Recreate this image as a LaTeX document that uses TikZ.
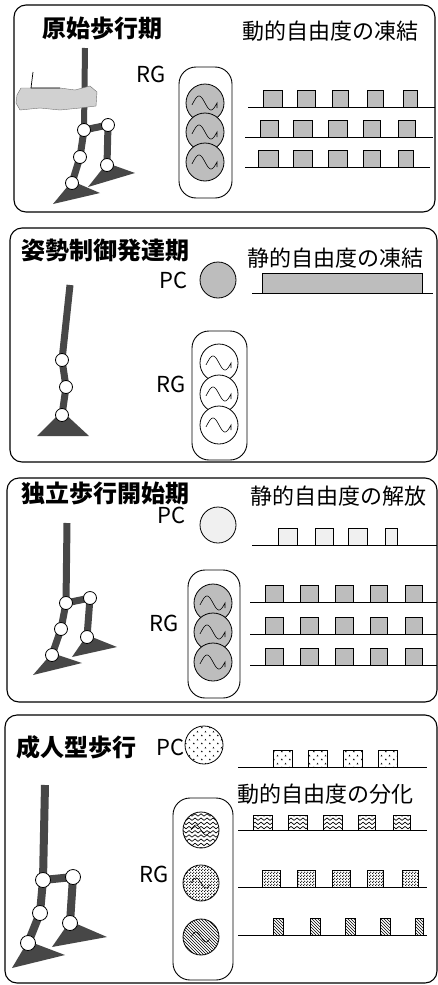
\documentclass[tikz,border=0pt]{standalone}
\usepackage{fontspec}
\newfontfamily\jp{Noto Sans CJK JP}
\usetikzlibrary{patterns}

% wavy horizontal lines
\pgfdeclarepatternformonly{zigzagfill}{\pgfqpoint{-1pt}{-1pt}}{\pgfqpoint{7pt}{6pt}}{\pgfqpoint{6pt}{4.2pt}}{%
  \pgfsetlinewidth{0.7pt}%
  \pgfpathmoveto{\pgfqpoint{0pt}{0.8pt}}%
  \pgfpathlineto{\pgfqpoint{3pt}{3.2pt}}%
  \pgfpathlineto{\pgfqpoint{6pt}{0.8pt}}%
  \pgfusepath{stroke}}
% dense stipple
\pgfdeclarepatternformonly{finedots}{\pgfqpoint{0pt}{0pt}}{\pgfqpoint{3pt}{3pt}}{\pgfqpoint{3pt}{3pt}}{%
  \pgfpathcircle{\pgfqpoint{0.75pt}{0.75pt}}{0.75pt}%
  \pgfpathcircle{\pgfqpoint{2.25pt}{2.25pt}}{0.75pt}%
  \pgfusepath{fill}}
% sparse small triangles
\pgfdeclarepatternformonly{tridots}{\pgfqpoint{0pt}{0pt}}{\pgfqpoint{8pt}{8pt}}{\pgfqpoint{8pt}{8pt}}{%
  \pgfpathmoveto{\pgfqpoint{1pt}{1pt}}\pgfpathlineto{\pgfqpoint{3pt}{1pt}}\pgfpathlineto{\pgfqpoint{2pt}{2.8pt}}\pgfpathclose
  \pgfpathmoveto{\pgfqpoint{5pt}{5pt}}\pgfpathlineto{\pgfqpoint{7pt}{5pt}}\pgfpathlineto{\pgfqpoint{6pt}{6.8pt}}\pgfpathclose
  \pgfusepath{fill}}

\tikzset{
  panel/.style={draw, line width=1.1pt, rounded corners=12pt},
  rgbox/.style={draw, line width=0.9pt, rounded corners=17pt},
  bar/.style={line width=7pt, draw=black!72},
  joint/.style={draw, fill=white, line width=0.8pt},
  foot/.style={fill=black!72},
  base/.style={line width=0.8pt},
  pulse/.style={draw, line width=0.6pt},
  stipple/.style={fill=black!26},
  pale/.style={fill=black!6},
  cell/.style={draw, line width=0.8pt},
  wig/.style={line width=0.6pt},
  title/.style={font=\jp\bfseries\fontsize{24}{24}\selectfont, anchor=west, inner sep=0pt},
  lab/.style={font=\jp\fontsize{22}{22}\selectfont, anchor=west, inner sep=0pt},
  ctl/.style={font=\jp\fontsize{22}{22}\selectfont, anchor=west, inner sep=0pt},
}

\begin{document}
\begin{tikzpicture}[x=1pt, y=-1pt]
\useasboundingbox (0,0) rectangle (438,985);
\fill[white] (0,0) rectangle (438,985);

% ---------------- stage 1 ----------------
\draw[panel] (14,5) rectangle (435,212);
\node[title] (t1) at (42,28) {原始歩行期};
\node[lab] (l1) at (242,31) {動的自由度の凍結};
\node[ctl] (rg1) at (136,74) {RG};
% body and legs
\draw[bar, line width=6pt] (85,48) -- (84,130);
\draw[bar] (84,130) -- (108,125);
\draw[bar] (84,130) -- (80,157) -- (72,183);
\draw[bar] (108,125) -- (107,165);
\fill[foot] (72,181) -- (53,204) -- (100,193) -- cycle;
\fill[foot] (107,163) -- (88,187) -- (135,173) -- cycle;
\foreach \p in {(84,130),(108,125),(80,157),(72,183),(107,165)}
  \draw[joint] \p circle (6.5);
% support rail held by the hand
\filldraw[fill=black!18, draw=black!55, line width=0.4pt]
  (17,95) -- (21,88) -- (60,88) -- (75,90) -- (90,86) -- (97,92) -- (96,106)
  -- (80,108) -- (60,110) -- (40,108) -- (20,110) -- (16,103) -- cycle;
\draw[line width=0.7pt] (33,72) -- (31,88) -- (60,88);
% rhythm generator
\draw[rgbox] (179,67) rectangle (232,198);
\foreach \cy in {103,132,162} {
  \filldraw[cell, stipple] (205,\cy) circle (19);
  \draw[wig, shift={(205,\cy)}] plot[domain=-13:12, samples=40, smooth] (\x,{7*sin(15*\x)}) -- ++(0,5);
}
% output pulses
\draw[base] (248,107) -- (435,107);
\draw[base] (245,137) -- (433,137);
\draw[base] (245,167) -- (430,167);
\foreach \a/\c in {263/282,297/315,332/348,367/383,403/417}
  \draw[pulse, stipple] (\a,90) rectangle (\c,107);
\foreach \a/\c in {260/278,293/312,328/347,363/380,398/415}
  \draw[pulse, stipple] (\a,120) rectangle (\c,137);
\foreach \a/\c in {258/278,293/312,328/347,363/380,398/413}
  \draw[pulse, stipple] (\a,150) rectangle (\c,167);

% ---------------- stage 2 ----------------
\draw[panel] (10,228) rectangle (437,462);
\node[title] (t2) at (21,250) {姿勢制御発達期};
\node[lab] (l2) at (247,258) {静的自由度の凍結};
\node[ctl] (pc2) at (159,280) {PC};
\node[ctl] (rg2) at (156,384) {RG};
\draw[bar] (70,285) -- (62,360) -- (66,387) -- (62,415);
\fill[foot] (62,411) -- (37,436) -- (89,436) -- cycle;
\foreach \p in {(62,360),(66,387),(62,415)}
  \draw[joint] \p circle (6.5);
\filldraw[cell, stipple] (218,280) circle (18);
\draw[base] (252,293) -- (433,293);
\draw[pulse, stipple] (262,273) rectangle (422,293);
\draw[rgbox] (192,331) rectangle (247,460);
\foreach \cy in {363,394,425} {
  \filldraw[cell, fill=white] (219,\cy) circle (19);
  \draw[wig, shift={(219,\cy)}] plot[domain=-13:12, samples=40, smooth] (\x,{7*sin(15*\x)}) -- ++(0,5);
}

% ---------------- stage 3 ----------------
\draw[panel] (7,478) rectangle (437,702);
\node[title] (t3) at (21,493) {独立歩行開始期};
\node[lab] (l3) at (250,496) {静的自由度の解放};
\node[ctl] (pc3) at (157,515) {PC};
\node[ctl] (rg3) at (149,623) {RG};
\draw[bar] (67,523) -- (66,603);
\draw[bar] (66,603) -- (90,598);
\draw[bar] (66,603) -- (61,629) -- (52,655);
\draw[bar] (90,598) -- (87,637);
\fill[foot] (52,653) -- (33,675) -- (82,663) -- cycle;
\fill[foot] (87,635) -- (72,657) -- (117,647) -- cycle;
\foreach \p in {(66,603),(90,598),(61,629),(52,655),(87,637)}
  \draw[joint] \p circle (6.5);
\filldraw[cell, pale] (218,525) circle (18);
\draw[base] (252,545) -- (437,545);
\foreach \a/\c in {278/297,315/333,348/367,385/397}
  \draw[pulse, pale] (\a,528) rectangle (\c,545);
\draw[rgbox] (188,570) rectangle (240,698);
\foreach \cy in {603,632,662} {
  \filldraw[cell, stipple] (213,\cy) circle (19);
  \draw[wig, shift={(213,\cy)}] plot[domain=-13:12, samples=40, smooth] (\x,{7*sin(15*\x)}) -- ++(0,5);
}
\draw[base] (250,602) -- (437,602);
\draw[base] (250,634) -- (437,634);
\draw[base] (250,665) -- (437,665);
\foreach \a/\c in {265/283,300/318,335/353,370/387,405/422} {
  \draw[pulse, stipple] (\a,585) rectangle (\c,602);
  \draw[pulse, stipple] (\a,617) rectangle (\c,634);
  \draw[pulse, stipple] (\a,648) rectangle (\c,665);
}

% ---------------- stage 4 ----------------
\draw[panel] (5,715) rectangle (437,983);
\node[title] (t4) at (16,747) {成人型歩行};
\node[ctl] (pc4) at (156,747) {PC};
\node[lab] (l4) at (237,794) {動的自由度の分化};
\node[ctl] (rg4) at (139,874) {RG};
\draw[bar, line width=8pt] (45,785) -- (43,880);
\draw[bar, line width=8pt] (43,880) -- (73,877);
\draw[bar, line width=8pt] (43,880) -- (40,913) -- (28,943);
\draw[bar, line width=8pt] (73,877) -- (70,923);
\fill[foot] (28,941) -- (12,968) -- (65,955) -- cycle;
\fill[foot] (70,921) -- (52,947) -- (107,937) -- cycle;
\foreach \p in {(43,880),(73,877),(40,913),(28,943),(70,923)}
  \draw[joint] \p circle (7.5);
\draw[cell, pattern=tridots] (204,745) circle (19);
\draw[base] (238,767) -- (427,767);
\foreach \a/\c in {273/292,308/327,343/362,378/397}
  \draw[pulse, pattern=tridots] (\a,750) rectangle (\c,767);
\draw[rgbox] (173,798) rectangle (233,980);
\draw[cell, pattern=zigzagfill] (201,830) circle (18);
\draw[cell, pattern=finedots] (201,883) circle (18);
\draw[cell, pattern=north west lines] (201,937) circle (18);
\foreach \cy in {830,883,937}
  \draw[wig, shift={(201,\cy)}] plot[domain=-10:9, samples=30, smooth] (\x,{5*sin(18*\x)});
\draw[base] (238,830) -- (427,830);
\draw[base] (238,887) -- (427,887);
\draw[base] (238,935) -- (427,935);
\foreach \a/\c in {253/272,288/307,323/342,358/375,393/410}
  \draw[pulse, pattern=zigzagfill] (\a,815) rectangle (\c,830);
\foreach \a/\c in {262/280,297/315,332/350,367/383,402/418}
  \draw[pulse, pattern=finedots] (\a,870) rectangle (\c,887);
\foreach \a/\c in {273/283,310/320,345/355,380/390,415/423}
  \draw[pulse, pattern=north west lines] (\a,918) rectangle (\c,935);
\end{tikzpicture}
\end{document}
